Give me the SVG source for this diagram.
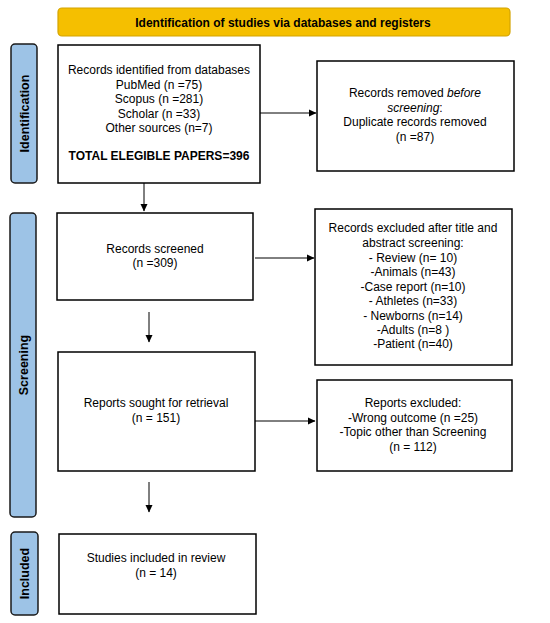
<svg xmlns="http://www.w3.org/2000/svg" width="550" height="623" viewBox="0 0 550 623">
<defs>
<marker id="ah" markerWidth="8" markerHeight="8" refX="7" refY="4" orient="auto" markerUnits="userSpaceOnUse">
<path d="M0,0.5 L7.5,4 L0,7.5 Z" fill="#000"/>
</marker>
<style>
.box{fill:#fff;stroke:#000;stroke-width:1.5}
.side{fill:#9DC3E6;stroke:#1a1a1a;stroke-width:1.5}
.t{font-family:"Liberation Sans",Arial,sans-serif;font-size:12px;fill:#000;text-anchor:middle}
.b{font-weight:bold}
.sl{font-family:"Liberation Sans",Arial,sans-serif;font-size:12.5px;font-weight:bold;fill:#000;text-anchor:middle}
.c{stroke:#000;stroke-width:1;fill:none;marker-end:url(#ah)}
</style>
</defs>
<rect width="550" height="623" fill="#fff"/>
<g id="banner">
<rect x="58" y="8" width="452" height="28" rx="4" fill="#F5BF00" stroke="#D4A400" stroke-width="1.2"/>
<text class="t b" x="283" y="26.5">Identification of studies via databases and registers</text>
</g>
<g id="lbl-identification">
<rect class="side" x="11" y="44" width="26" height="139" rx="4"/>
<text class="sl" transform="translate(28.5,113.5) rotate(-90)">Identification</text>
</g>
<g id="lbl-screening">
<rect class="side" x="10" y="213" width="26" height="304" rx="4"/>
<text class="sl" transform="translate(27.5,365) rotate(-90)">Screening</text>
</g>
<g id="lbl-included">
<rect class="side" x="11" y="532" width="27" height="83" rx="4"/>
<text class="sl" transform="translate(29,573.5) rotate(-90)">Included</text>
</g>
<g id="records-identified">
<rect class="box" x="58" y="45" width="202" height="138"/>
<text class="t" x="159" y="74">Records identified from databases</text>
<text class="t" x="159" y="88.5">PubMed (n =75)</text>
<text class="t" x="159" y="103">Scopus (n =281)</text>
<text class="t" x="159" y="117.5">Scholar (n =33)</text>
<text class="t" x="159" y="132">Other sources (n=7)</text>
<text class="t b" x="159" y="160">TOTAL ELEGIBLE PAPERS=396</text>
</g>
<g id="records-removed">
<rect class="box" x="317" y="61" width="197" height="110"/>
<text class="t" x="415" y="97">Records removed <tspan font-style="italic">before</tspan></text>
<text class="t" x="415" y="111.5"><tspan font-style="italic">screening</tspan>:</text>
<text class="t" x="415" y="126"> Duplicate records removed</text>
<text class="t" x="415" y="140.5">(n =87)</text>
</g>
<g id="records-screened">
<rect class="box" x="57" y="213" width="196" height="87"/>
<text class="t" x="155" y="253">Records screened</text>
<text class="t" x="155" y="267">(n =309)</text>
</g>
<g id="records-excluded">
<rect class="box" x="315" y="209" width="197" height="156"/>
<text class="t" x="413" y="232">Records excluded after title and</text>
<text class="t" x="413" y="247">abstract screening:</text>
<text class="t" x="413" y="262">- Review (n= 10)</text>
<text class="t" x="413" y="276">-Animals (n=43)</text>
<text class="t" x="413" y="291">-Case report (n=10)</text>
<text class="t" x="413" y="305">- Athletes (n=33)</text>
<text class="t" x="413" y="320">- Newborns (n=14)</text>
<text class="t" x="413" y="333.5">-Adults (n=8 )</text>
<text class="t" x="413" y="347.5">-Patient (n=40)</text>
</g>
<g id="reports-sought">
<rect class="box" x="58" y="352" width="197" height="119"/>
<text class="t" x="156" y="407">Reports sought for retrieval</text>
<text class="t" x="156" y="422">(n = 151)</text>
</g>
<g id="reports-excluded">
<rect class="box" x="317" y="380" width="195" height="91"/>
<text class="t" x="413" y="407">Reports excluded:</text>
<text class="t" x="413" y="421.5">-Wrong outcome (n =25)</text>
<text class="t" x="413" y="436">-Topic other than Screening</text>
<text class="t" x="413" y="450.5">(n = 112)</text>
</g>
<g id="studies-included">
<rect class="box" x="59" y="534" width="197" height="80"/>
<text class="t" x="156" y="562">Studies included in review</text>
<text class="t" x="156" y="577">(n = 14)</text>
</g>
<g id="connectors">
<line class="c" x1="260" y1="113" x2="316" y2="113"/>
<line class="c" x1="144" y1="183" x2="144" y2="211"/>
<line class="c" x1="255" y1="258" x2="314" y2="258"/>
<line class="c" x1="149" y1="312" x2="149" y2="342"/>
<line class="c" x1="255" y1="421" x2="315" y2="421"/>
<line class="c" x1="149" y1="482" x2="149" y2="512"/>
</g>
</svg>
